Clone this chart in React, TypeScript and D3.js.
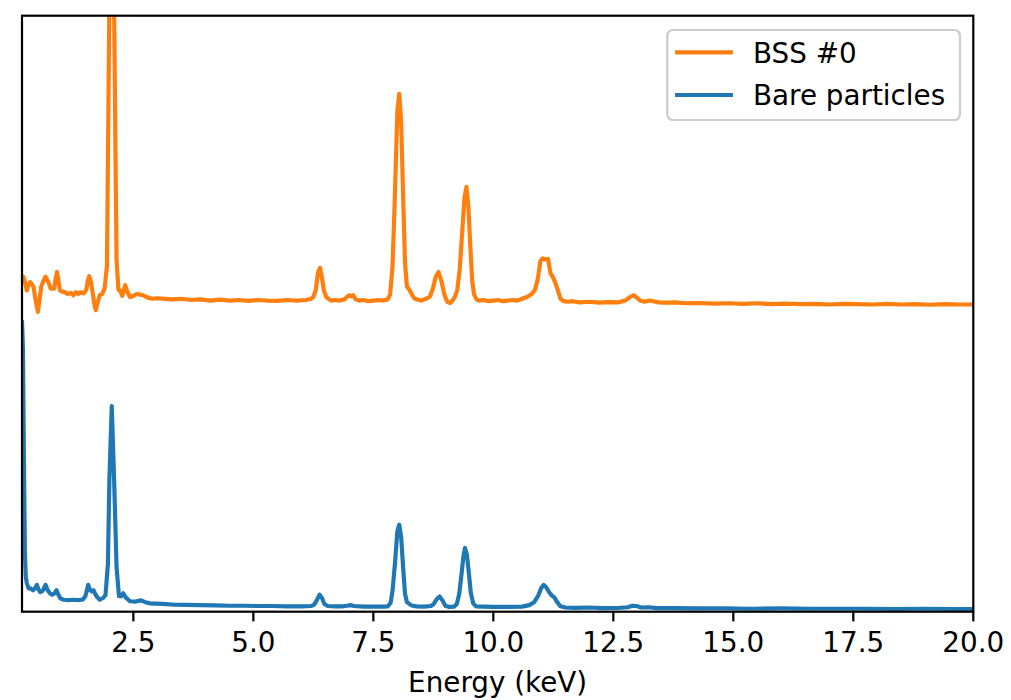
import React from 'react';
import * as d3 from 'd3';

// ---- data ----
const X_DOMAIN: [number, number] = [0.18, 20];
const Y_DOMAIN: [number, number] = [0, 100];
const X_TICKS = [2.5, 5.0, 7.5, 10.0, 12.5, 15.0, 17.5, 20.0];
const X_LABEL = 'Energy (keV)';
const SERIES_LABELS = ['BSS #0', 'Bare particles'];
const BSS_OFFSET = 50;

// [energy keV, intensity] (BSS #0 is drawn shifted by BSS_OFFSET)
const bssSpectrum: [number, number][] = [
  [0.18, 6.0], [0.21, 6.2], [0.25, 5.0], [0.28, 3.9], [0.31, 4.8], [0.35, 5.3], [0.38, 5.0],
  [0.42, 4.5], [0.46, 2.5], [0.51, 0.3], [0.54, 2.0], [0.58, 4.5], [0.62, 5.4], [0.67, 6.2],
  [0.73, 5.3], [0.78, 4.2], [0.85, 4.2], [0.88, 5.8], [0.91, 7.0], [0.94, 5.5], [0.97, 3.9],
  [1.02, 3.7], [1.08, 3.6], [1.13, 3.3], [1.2, 3.5], [1.25, 3.1], [1.3, 3.6], [1.35, 3.3],
  [1.4, 3.6], [1.46, 3.4], [1.52, 4.0], [1.55, 5.5], [1.58, 6.3], [1.62, 5.2], [1.65, 3.6],
  [1.69, 1.5], [1.72, 0.6], [1.76, 2.0], [1.8, 3.1], [1.85, 3.3], [1.9, 4.2], [1.95, 8.0],
  [2.0, 52], [2.05, 85], [2.1, 50], [2.15, 9], [2.19, 4.0], [2.22, 3.9], [2.27, 3.0],
  [2.33, 4.8], [2.38, 3.6], [2.43, 2.8], [2.5, 3.0], [2.57, 3.3], [2.64, 3.2], [2.7, 3.1],
  [2.8, 2.7], [2.9, 2.5], [3.0, 2.6], [3.16, 2.5], [3.3, 2.4], [3.5, 2.5], [3.7, 2.3],
  [3.9, 2.4], [4.1, 2.2], [4.3, 2.35], [4.5, 2.2], [4.7, 2.3], [4.9, 2.15], [5.1, 2.3],
  [5.3, 2.2], [5.5, 2.15], [5.7, 2.3], [5.9, 2.2], [6.1, 2.3], [6.2, 2.5], [6.25, 2.8],
  [6.3, 4.0], [6.35, 7.0], [6.39, 7.7], [6.43, 6.0], [6.47, 3.9], [6.52, 2.8], [6.56, 2.5],
  [6.62, 2.2], [6.7, 2.3], [6.8, 2.2], [6.9, 2.4], [6.96, 2.9], [7.0, 3.1], [7.04, 2.9],
  [7.08, 3.1], [7.13, 2.4], [7.2, 2.2], [7.3, 2.3], [7.4, 2.1], [7.5, 2.2], [7.6, 2.3],
  [7.7, 2.2], [7.8, 2.4], [7.85, 3.2], [7.9, 8], [7.95, 20], [8.0, 34], [8.04, 36.9],
  [8.08, 32], [8.12, 20], [8.16, 8.5], [8.2, 4.6], [8.25, 4.0], [8.3, 3.3], [8.35, 2.6],
  [8.4, 2.4], [8.5, 2.2], [8.6, 2.5], [8.68, 2.9], [8.74, 4.2], [8.8, 6.2], [8.86, 7.0],
  [8.92, 5.4], [8.98, 3.2], [9.04, 2.0], [9.1, 1.8], [9.15, 2.2], [9.2, 2.9], [9.25, 4.0],
  [9.3, 7.5], [9.35, 13.5], [9.4, 19.5], [9.44, 21.3], [9.48, 18.0], [9.52, 11.5], [9.56, 5.5],
  [9.6, 3.2], [9.65, 2.4], [9.7, 2.2], [9.8, 2.3], [9.9, 2.1], [10.0, 2.2], [10.1, 2.3],
  [10.2, 2.1], [10.3, 2.2], [10.4, 2.3], [10.5, 2.2], [10.6, 2.5], [10.7, 2.8], [10.8, 3.3],
  [10.87, 4.0], [10.93, 6.0], [10.98, 8.8], [11.03, 9.3], [11.08, 9.1], [11.14, 9.2],
  [11.19, 6.8], [11.25, 6.0], [11.3, 5.0], [11.35, 3.8], [11.4, 2.5], [11.47, 2.1],
  [11.55, 2.0], [11.65, 2.1], [11.8, 1.9], [12.0, 2.0], [12.2, 1.85], [12.4, 1.95],
  [12.6, 1.9], [12.75, 2.2], [12.85, 2.8], [12.92, 3.1], [12.99, 2.7], [13.06, 2.2],
  [13.15, 2.0], [13.25, 2.2], [13.33, 2.1], [13.45, 1.9], [13.6, 1.85], [13.8, 1.9],
  [14.0, 1.75], [14.3, 1.8], [14.6, 1.7], [14.9, 1.75], [15.2, 1.65], [15.5, 1.75],
  [15.8, 1.6], [16.1, 1.7], [16.4, 1.6], [16.7, 1.65], [17.0, 1.55], [17.3, 1.65],
  [17.6, 1.6], [17.9, 1.55], [18.2, 1.65], [18.5, 1.55], [18.8, 1.6], [19.1, 1.5],
  [19.4, 1.6], [19.7, 1.55], [20.0, 1.55],
];

const bareSpectrum: [number, number][] = [
  [0.18, 48.9], [0.2, 44], [0.22, 26], [0.24, 10], [0.26, 5.8], [0.28, 4.8], [0.32, 3.9],
  [0.36, 3.9], [0.41, 3.6], [0.45, 3.9], [0.49, 4.5], [0.52, 3.8], [0.56, 3.3], [0.61, 3.5],
  [0.67, 4.5], [0.71, 3.7], [0.76, 3.1], [0.81, 2.85], [0.86, 3.1], [0.9, 3.6], [0.94, 2.8],
  [0.98, 2.2], [1.05, 2.0], [1.15, 1.95], [1.25, 2.0], [1.35, 1.95], [1.45, 2.05], [1.5, 2.6],
  [1.56, 4.5], [1.6, 3.6], [1.64, 3.4], [1.67, 3.6], [1.71, 2.9], [1.74, 2.5], [1.8, 2.0],
  [1.87, 2.3], [1.92, 2.8], [1.97, 8.0], [2.0, 22], [2.05, 34.5], [2.1, 22], [2.15, 7.5],
  [2.2, 2.6], [2.25, 2.6], [2.29, 3.1], [2.34, 2.4], [2.43, 1.75], [2.55, 1.7], [2.66, 1.9],
  [2.75, 1.6], [2.85, 1.4], [2.95, 1.35], [3.1, 1.3], [3.37, 1.17], [3.6, 1.15], [3.9, 1.1],
  [4.2, 1.05], [4.5, 1.0], [4.8, 1.0], [5.1, 0.95], [5.4, 0.95], [5.7, 0.9], [6.0, 0.9],
  [6.2, 0.95], [6.27, 1.2], [6.32, 1.9], [6.38, 2.85], [6.43, 2.3], [6.48, 1.3], [6.55, 0.95],
  [6.7, 0.9], [6.85, 0.9], [6.95, 1.0], [7.02, 1.1], [7.1, 0.95], [7.3, 0.85], [7.5, 0.85],
  [7.7, 0.85], [7.8, 0.9], [7.86, 1.5], [7.9, 3.5], [7.95, 8], [8.0, 13.5], [8.04, 14.6],
  [8.08, 12.5], [8.12, 7.5], [8.16, 3.0], [8.2, 1.6], [8.25, 1.3], [8.3, 1.05], [8.4, 0.9],
  [8.55, 0.85], [8.7, 0.95], [8.76, 1.3], [8.82, 2.1], [8.88, 2.56], [8.94, 1.9], [9.0, 1.0],
  [9.08, 0.8], [9.18, 0.85], [9.24, 1.3], [9.29, 3.0], [9.34, 6.5], [9.38, 9.5], [9.41, 10.7],
  [9.45, 9.5], [9.49, 6.5], [9.53, 3.2], [9.58, 1.4], [9.64, 0.9], [9.8, 0.85], [10.0, 0.8],
  [10.3, 0.8], [10.6, 0.85], [10.75, 1.1], [10.85, 1.6], [10.93, 2.6], [11.0, 4.0],
  [11.05, 4.5], [11.1, 4.1], [11.16, 3.3], [11.22, 2.7], [11.27, 2.4], [11.33, 1.6],
  [11.4, 0.9], [11.5, 0.7], [11.7, 0.65], [12.0, 0.7], [12.3, 0.6], [12.6, 0.62], [12.8, 0.75],
  [12.9, 1.0], [12.98, 0.95], [13.08, 0.7], [13.25, 0.75], [13.4, 0.6], [13.8, 0.6],
  [14.2, 0.55], [14.8, 0.55], [15.4, 0.5], [16.0, 0.55], [16.6, 0.5], [17.2, 0.5],
  [17.8, 0.5], [18.4, 0.45], [19.0, 0.5], [19.6, 0.45], [20.0, 0.45],
];

const COLORS = ['#ff7f0e', '#1f77b4'];

export default function App() {
  const W = 1011;
  const H = 700;
  const left = 22;
  const right = 973.3;
  const top = 15.7;
  const bottom = 611.7;
  const font = '"DejaVu Sans", sans-serif';
  const fs = 27.8;

  const x = d3.scaleLinear().domain(X_DOMAIN).range([left, right]);
  const y = d3.scaleLinear().domain(Y_DOMAIN).range([bottom, top]);

  const bssLine = d3
    .line<[number, number]>()
    .x((d) => x(d[0]))
    .y((d) => y(d[1] + BSS_OFFSET));
  const bareLine = d3
    .line<[number, number]>()
    .x((d) => x(d[0]))
    .y((d) => y(d[1]));

  const lw = 4.17;
  const tickLen = 9.7;

  return (
    <svg
      width={W}
      height={H}
      style={{ position: 'absolute', left: 0, top: 0, background: '#fff' }}
      fontFamily={font}
    >
      <defs>
        <clipPath id="plotclip">
          <rect x={left} y={top} width={right - left} height={bottom - top} />
        </clipPath>
      </defs>
      <rect x={0} y={0} width={W} height={H} fill="#fff" />
      <g clipPath="url(#plotclip)">
        <path
          d={bssLine(bssSpectrum) || ''}
          fill="none"
          stroke={COLORS[0]}
          strokeWidth={lw}
          strokeLinejoin="round"
        />
        <path
          d={bareLine(bareSpectrum) || ''}
          fill="none"
          stroke={COLORS[1]}
          strokeWidth={lw}
          strokeLinejoin="round"
        />
      </g>
      {/* spines */}
      <rect
        x={left}
        y={top}
        width={right - left}
        height={bottom - top}
        fill="none"
        stroke="#000"
        strokeWidth={2.2}
      />
      {/* x ticks */}
      {X_TICKS.map((t) => (
        <g key={t}>
          <line x1={x(t)} x2={x(t)} y1={bottom} y2={bottom + tickLen} stroke="#000" strokeWidth={2.2} />
          <text x={x(t)} y={651.7} textAnchor="middle" fontSize={fs} fill="#000">
            {d3.format('.1f')(t)}
          </text>
        </g>
      ))}
      <text x={(left + right) / 2} y={692} textAnchor="middle" fontSize={fs} fill="#000">
        {X_LABEL}
      </text>
      {/* legend */}
      <g>
        <rect
          x={667.3}
          y={30}
          width={960 - 667.3}
          height={90}
          rx={5.6}
          ry={5.6}
          fill="#fff"
          fillOpacity={0.8}
          stroke="#cccccc"
          strokeWidth={2.2}
        />
        {SERIES_LABELS.map((label, i) => (
          <g key={label}>
            <line
              x1={675}
              x2={733}
              y1={52.3 + i * 42.7}
              y2={52.3 + i * 42.7}
              stroke={COLORS[i]}
              strokeWidth={lw}
            />
            <text x={753} y={63 + i * 42.3} fontSize={fs} fill="#000">
              {label}
            </text>
          </g>
        ))}
      </g>
    </svg>
  );
}
